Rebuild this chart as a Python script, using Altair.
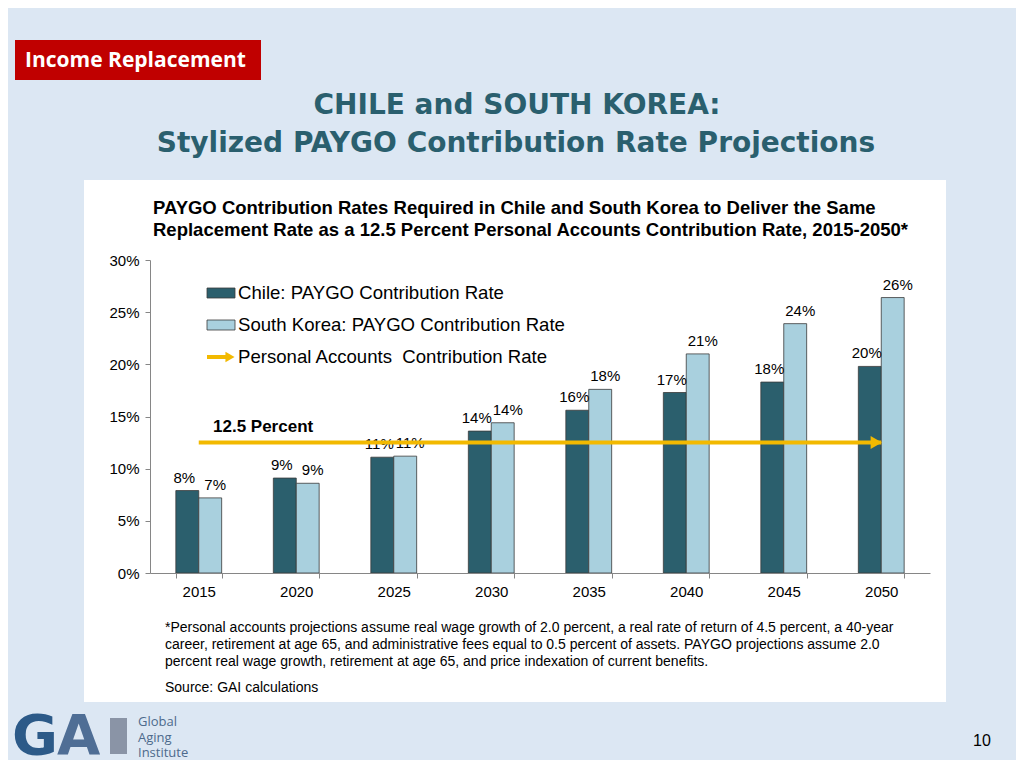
import altair as alt
import pandas as pd

# ---------------- data ----------------
years = ["2015", "2020", "2025", "2030", "2035", "2040", "2045", "2050"]
chile = [7.9, 9.1, 11.1, 13.6, 15.6, 17.3, 18.3, 19.8]
korea = [7.2, 8.6, 11.2, 14.4, 17.6, 21.0, 23.9, 26.4]
series_names = ["Chile: PAYGO Contribution Rate", "South Korea: PAYGO Contribution Rate"]
series_colors = ["#2b5f6d", "#a9d0de"]
pa_label = "Personal Accounts \u00a0Contribution Rate"
pa_rate = 12.5
pa_years = ["2015", "2050"]
y_ticks = [0, 5, 10, 15, 20, 25, 30]

title_lines = ["CHILE and SOUTH KOREA:", "Stylized PAYGO Contribution Rate Projections"]
subtitle_lines = [
    "PAYGO Contribution Rates Required in Chile and South Korea to Deliver the Same",
    "Replacement Rate as a 12.5 Percent Personal Accounts Contribution Rate, 2015-2050*",
]
footnote_lines = [
    "*Personal accounts projections assume real wage growth of 2.0 percent, a real rate of return of 4.5 percent, a 40-year",
    "career, retirement at age 65, and administrative fees equal to 0.5 percent of assets.  PAYGO projections assume 2.0",
    "percent real wage growth, retirement at age 65, and price indexation of current benefits.",
]
source_line = "Source: GAI calculations"

rows = []
for i, y in enumerate(years):
    rows.append({"year": y, "series": series_names[0], "value": chile[i]})
    rows.append({"year": y, "series": series_names[1], "value": korea[i]})
df = pd.DataFrame(rows)
pa_df = pd.DataFrame({"year": pa_years, "value": [pa_rate] * len(pa_years)})
pa_end = pd.DataFrame({"year": [pa_years[-1]], "value": [pa_rate]})
one = pd.DataFrame({"k": [0]})

FONT = "Liberation Sans"
BG = "#dce7f3"
GOLD = "#f2b900"
AXC = "#868686"

# ---------------- helpers for decorations (pixel positions rel. to plot origin) ----------------
def txt(s, x, y, size, color="black", weight="normal", font=FONT, align="left", baseline="alphabetic"):
    return alt.Chart(one).mark_text(
        text=s, align=align, baseline=baseline, fontSize=size, font=font,
        fontWeight=weight, color=color
    ).encode(x=alt.value(x), y=alt.value(y))

def box(x, x2, y, y2, color, stroke=None):
    kw = {"color": color}
    if stroke:
        kw.update(stroke=stroke, strokeWidth=0.8)
    return alt.Chart(one).mark_rect(**kw).encode(
        x=alt.value(x), x2=alt.value(x2), y=alt.value(y), y2=alt.value(y2))

# ---------------- chart layers ----------------
x_enc = alt.X(
    "year:N", sort=years,
    scale=alt.Scale(domain=years, paddingInner=0.53, paddingOuter=0.265),
    axis=alt.Axis(title=None, labelAngle=0, tickBand="extent", tickSize=5,
                  tickColor=AXC, domainColor=AXC, labelFontSize=15, labelFont=FONT,
                  labelColor="black", labelPadding=6, zindex=1),
)
y_enc = alt.Y(
    "value:Q", scale=alt.Scale(domain=[0, 30], nice=False),
    axis=alt.Axis(title=None, values=y_ticks, labelExpr="datum.value + '%'", grid=False,
                  tickSize=5, tickColor=AXC, domainColor=AXC, labelFontSize=15,
                  labelFont=FONT, labelColor="black", labelPadding=6, zindex=1),
)
xoff = alt.XOffset("series:N", sort=series_names,
                   scale=alt.Scale(domain=series_names, paddingInner=0, paddingOuter=0))

bars = alt.Chart(df).mark_bar(stroke="#3a3a3a", strokeWidth=0.8).encode(
    x=x_enc, xOffset=xoff, y=y_enc,
    color=alt.Color("series:N", sort=series_names,
                    scale=alt.Scale(domain=series_names, range=series_colors), legend=None),
)

def label_layer(series, dx):
    return alt.Chart(df).transform_filter(
        alt.datum.series == series
    ).transform_calculate(
        lbl="format(datum.value, '.0f') + '%'"
    ).mark_text(baseline="bottom", dy=-5, dx=dx, fontSize=15, font=FONT, color="black").encode(
        x=alt.X("year:N", sort=years), xOffset=xoff, y="value:Q", text="lbl:N"
    )

labels_c = label_layer(series_names[0], -3)
labels_k = label_layer(series_names[1], 5)

pa_line = alt.Chart(pa_df).mark_line(color=GOLD, strokeWidth=4).encode(
    x=alt.X("year:N", sort=years), y="value:Q")
pa_head = alt.Chart(pa_end).mark_point(
    shape="triangle-right", filled=True, size=170, color=GOLD, opacity=1, xOffset=-5
).encode(x=alt.X("year:N", sort=years), y="value:Q")

# ---------------- decorations ----------------
deco_back = [
    box(-66, 796, -80, 442, "white"),
]
deco_front = [
    # red section label
    box(-135, 111, -220, -180, "#c00000"),
    txt("Income Replacement", -125, -193, 21, color="white", weight="bold", font="Open Sans"),
    # main title
    txt(title_lines[0], 367, -146, 28, color="#2a5f6e", weight="bold", font="DejaVu Sans", align="center"),
    txt(title_lines[1], 366, -108, 28, color="#2a5f6e", weight="bold", font="DejaVu Sans", align="center"),
    # chart subtitle
    txt(subtitle_lines[0], 3, -46, 18.5, weight="bold"),
    txt(subtitle_lines[1], 3, -24, 18.5, weight="bold"),
    # legend
    box(57, 85, 28, 38, series_colors[0], stroke="#3a3a3a"),
    txt(series_names[0], 88, 39, 18.6),
    box(57, 85, 60, 70, series_colors[1], stroke="#3a3a3a"),
    txt(series_names[1], 88, 71, 18.6),
    alt.Chart(one).mark_rule(color=GOLD, strokeWidth=4).encode(
        x=alt.value(57), x2=alt.value(78), y=alt.value(97)),
    alt.Chart(one).mark_point(shape="triangle-right", filled=True, size=110, color=GOLD, opacity=1).encode(
        x=alt.value(80), y=alt.value(97)),
    txt(pa_label, 88, 103, 18.6),
    # 12.5 percent annotation
    txt("12.5 Percent", 63, 172, 17, weight="bold"),
    # footnotes
    txt(footnote_lines[0], 15, 372, 14),
    txt(footnote_lines[1], 15, 389, 14),
    txt(footnote_lines[2], 15, 406, 14),
    txt(source_line, 15, 432, 14),
    # logo
    txt("G", -138, 494, 56, color="#2c5a88", weight="bold", font="DejaVu Sans"),
    txt("A", -93, 494, 56, color="#4f6e95", weight="bold", font="DejaVu Sans"),
    box(-40, -23, 458, 494, "#8a94a6"),
    txt("Global", -12, 466, 13, color="#4d6a8c", font="Open Sans"),
    txt("Aging", -12, 482, 13, color="#4d6a8c", font="Open Sans"),
    txt("Institute", -12, 497, 13, color="#4d6a8c", font="Open Sans"),
    # page number
    txt("10", 832, 486, 16, align="center"),
]

chart = alt.layer(
    *deco_back, bars, labels_c, labels_k, pa_line, pa_head, *deco_front
).properties(
    width=780, height=313,
    autosize=alt.AutoSizeParams(type="none"),
    padding={"left": 142, "top": 252, "right": 86, "bottom": 187},
    background=BG,
).configure_view(stroke=None)

chart.save("out.html", embed_options={"renderer": "svg", "actions": False})
